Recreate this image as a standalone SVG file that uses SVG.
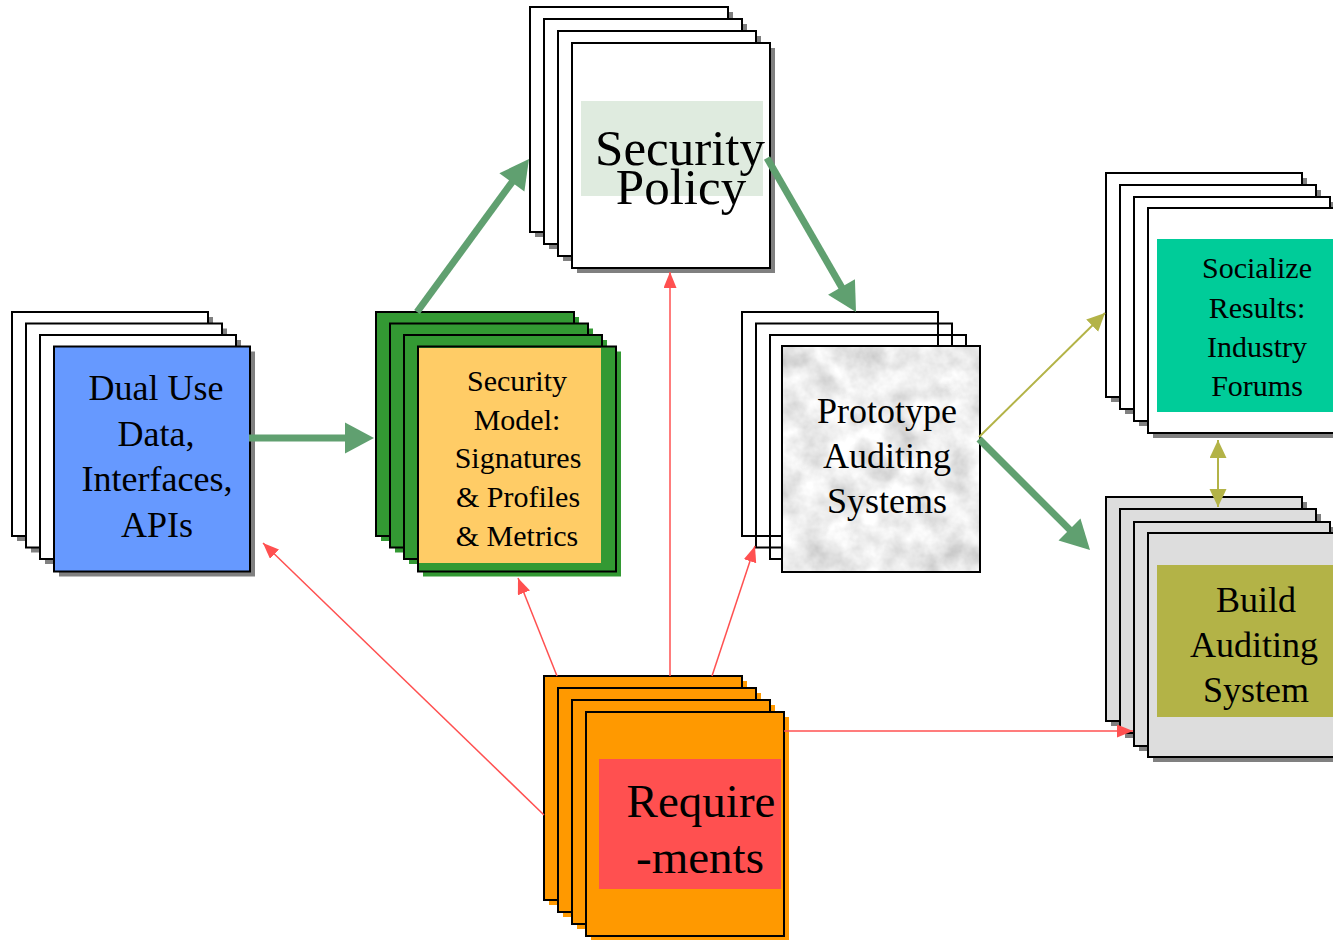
<svg xmlns="http://www.w3.org/2000/svg" width="1333" height="940" viewBox="0 0 1333 940">
<style>
  .card { stroke: #000; stroke-width: 2; }
  .sh { fill: #808080; }
  .w { fill: #fff; }
  .t { font-family: "Liberation Serif", "Times New Roman", serif; fill: #000; text-anchor: middle; }
  .g { stroke: #60A070; stroke-width: 7; fill: none; }
  .gh { fill: #60A070; }
  .r { stroke: #FF5050; stroke-width: 1.5; fill: none; }
  .o { stroke: #B3B347; stroke-width: 2; fill: none; }
</style>
<defs>
  <path id="ghead" d="M0,0 L29,15.5 L0,31 z"/>
  <marker id="mr" markerUnits="userSpaceOnUse" markerWidth="17" markerHeight="14" refX="16" refY="6.5" orient="auto">
    <path d="M0,0 L16,6.5 L0,13 z" fill="#FF5050"/>
  </marker>
  <marker id="mo" markerUnits="userSpaceOnUse" markerWidth="19" markerHeight="18" refX="18" refY="8.5" orient="auto-start-reverse">
    <path d="M0,0 L18,8.5 L0,17 z" fill="#B3B347"/>
  </marker>
  <filter id="marble" x="0" y="0" width="100%" height="100%">
    <feTurbulence type="fractalNoise" baseFrequency="0.035" numOctaves="4" seed="7" result="n"/>
    <feColorMatrix in="n" type="matrix" values="0.7 0 0 0 0.5  0.7 0 0 0 0.5  0.7 0 0 0 0.5  0 0 0 0 1" result="c"/>
    <feComposite in="c" in2="SourceGraphic" operator="in"/>
  </filter>
</defs>

<g id="node-dual">
  <rect class="sh" x="17" y="317" width="196" height="224"/>
  <rect class="card w" x="12" y="312" width="196" height="224"/>
  <rect class="sh" x="31" y="328.5" width="196" height="224"/>
  <rect class="card w" x="26" y="323.5" width="196" height="224"/>
  <rect class="sh" x="45" y="340" width="196" height="224"/>
  <rect class="card w" x="40" y="335" width="196" height="224"/>
  <rect class="sh" x="59" y="351.5" width="196" height="225"/>
  <rect class="card" fill="#6699FF" x="54" y="346.5" width="196" height="225"/>
  <text class="t" font-size="36" x="156" y="400">Dual Use</text>
  <text class="t" font-size="36" x="156" y="446">Data,</text>
  <text class="t" font-size="36" x="157" y="491">Interfaces,</text>
  <text class="t" font-size="36" x="157" y="537">APIs</text>
</g>

<g id="node-model">
  <rect fill="#339933" x="381" y="317" width="198" height="224"/>
  <rect class="card" fill="#339933" x="376" y="312" width="198" height="224"/>
  <rect fill="#339933" x="395" y="328.5" width="198" height="224"/>
  <rect class="card" fill="#339933" x="390" y="323.5" width="198" height="224"/>
  <rect fill="#339933" x="409" y="340" width="198" height="224"/>
  <rect class="card" fill="#339933" x="404" y="335" width="198" height="224"/>
  <rect fill="#339933" x="423" y="351.5" width="198" height="225"/>
  <rect class="card" fill="#339933" x="418" y="346.5" width="198" height="225"/>
  <rect fill="#FFCC66" x="419" y="348" width="182" height="215"/>
  <text class="t" font-size="30" x="517" y="391">Security</text>
  <text class="t" font-size="30" x="517" y="430">Model:</text>
  <text class="t" font-size="30" x="518" y="468">Signatures</text>
  <text class="t" font-size="30" x="518" y="507">&amp; Profiles</text>
  <text class="t" font-size="30" x="517" y="546">&amp; Metrics</text>
</g>

<g id="node-policy">
  <rect class="sh" x="535" y="12" width="198" height="225"/>
  <rect class="card w" x="530" y="7" width="198" height="225"/>
  <rect class="sh" x="549" y="24" width="198" height="225"/>
  <rect class="card w" x="544" y="19" width="198" height="225"/>
  <rect class="sh" x="563" y="36" width="198" height="225"/>
  <rect class="card w" x="558" y="31" width="198" height="225"/>
  <rect class="sh" x="577" y="48" width="198" height="225"/>
  <rect class="card w" x="572" y="43" width="198" height="225"/>
  <rect fill="#DFEBDF" x="581" y="101" width="182" height="95"/>
  <text class="t" font-size="51" x="680" y="165">Security</text>
  <text class="t" font-size="51" x="681" y="204">Policy</text>
</g>

<g id="node-prototype">
  <rect class="card" fill="none" x="742" y="312" width="196" height="224"/>
  <rect class="card" fill="none" x="756" y="323.5" width="196" height="224"/>
  <rect class="card" fill="none" x="770" y="335" width="196" height="224"/>
  <rect fill="#eee" filter="url(#marble)" x="782" y="346" width="198" height="226"/>
  <rect class="card" fill="none" x="782" y="346" width="198" height="226"/>
  <text class="t" font-size="36" x="887" y="423">Prototype</text>
  <text class="t" font-size="36" x="887" y="468">Auditing</text>
  <text class="t" font-size="36" x="887" y="513">Systems</text>
</g>

<g id="node-socialize">
  <rect class="sh" x="1111" y="178" width="196" height="224"/>
  <rect class="card w" x="1106" y="173" width="196" height="224"/>
  <rect class="sh" x="1125" y="190" width="196" height="224"/>
  <rect class="card w" x="1120" y="185" width="196" height="224"/>
  <rect class="sh" x="1139" y="202" width="196" height="224"/>
  <rect class="card w" x="1134" y="197" width="196" height="224"/>
  <rect class="sh" x="1153" y="213" width="196" height="225"/>
  <rect class="card w" x="1148" y="208" width="196" height="225"/>
  <rect fill="#00CC99" x="1157" y="239" width="190" height="173"/>
  <text class="t" font-size="30" x="1257" y="278">Socialize</text>
  <text class="t" font-size="30" x="1257" y="318">Results:</text>
  <text class="t" font-size="30" x="1257" y="357">Industry</text>
  <text class="t" font-size="30" x="1257" y="396">Forums</text>
</g>

<g id="node-build">
  <rect class="sh" x="1111" y="502" width="196" height="224"/>
  <rect class="card" fill="#DDDDDD" x="1106" y="497" width="196" height="224"/>
  <rect class="sh" x="1125" y="514" width="196" height="224"/>
  <rect class="card" fill="#DDDDDD" x="1120" y="509" width="196" height="224"/>
  <rect class="sh" x="1139" y="527" width="196" height="224"/>
  <rect class="card" fill="#DDDDDD" x="1134" y="522" width="196" height="224"/>
  <rect class="sh" x="1153" y="538" width="196" height="224"/>
  <rect class="card" fill="#DDDDDD" x="1148" y="533" width="196" height="224"/>
  <rect fill="#B3B347" x="1157" y="565" width="190" height="152"/>
  <text class="t" font-size="36" x="1256" y="612">Build</text>
  <text class="t" font-size="36" x="1254" y="657">Auditing</text>
  <text class="t" font-size="36" x="1256" y="702">System</text>
</g>

<g id="node-requirements">
  <rect fill="#FF9900" x="549" y="681" width="198" height="224"/>
  <rect class="card" fill="#FF9900" x="544" y="676" width="198" height="224"/>
  <rect fill="#FF9900" x="563" y="693" width="198" height="224"/>
  <rect class="card" fill="#FF9900" x="558" y="688" width="198" height="224"/>
  <rect fill="#FF9900" x="577" y="705" width="198" height="224"/>
  <rect class="card" fill="#FF9900" x="572" y="700" width="198" height="224"/>
  <rect fill="#FF9900" x="591" y="717" width="198" height="224"/>
  <rect class="card" fill="#FF9900" x="586" y="712" width="198" height="224"/>
  <rect fill="#FF5050" x="599" y="759" width="182" height="130"/>
  <text class="t" font-size="47" x="701" y="817">Require</text>
  <text class="t" font-size="47" x="700" y="873">-ments</text>
</g>

<g id="connectors">
  <line class="g" x1="249" y1="438" x2="350" y2="438"/>
  <use href="#ghead" class="gh" transform="translate(374,438) translate(-29,-15.5)"/>
  <line class="g" x1="417" y1="312" x2="517.2" y2="175.1"/>
  <use href="#ghead" class="gh" transform="translate(529,159) rotate(-53.8) translate(-29,-15.5)"/>
  <line class="g" x1="767" y1="158" x2="846" y2="294.7"/>
  <use href="#ghead" class="gh" transform="translate(856,312) rotate(60) translate(-29,-15.5)"/>
  <line class="g" x1="979" y1="439" x2="1075.9" y2="535.9"/>
  <use href="#ghead" class="gh" transform="translate(1090,550) rotate(45) translate(-29,-15.5)"/>

  <line class="o" x1="979" y1="437" x2="1105" y2="313" marker-end="url(#mo)"/>
  <line class="o" x1="1218" y1="440" x2="1218" y2="507" marker-start="url(#mo)" marker-end="url(#mo)"/>

  <line class="r" x1="544" y1="815" x2="263" y2="543" marker-end="url(#mr)"/>
  <line class="r" x1="557" y1="676" x2="518" y2="578" marker-end="url(#mr)"/>
  <line class="r" x1="670" y1="676" x2="670" y2="272" marker-end="url(#mr)"/>
  <line class="r" x1="712" y1="676" x2="755" y2="546" marker-end="url(#mr)"/>
  <line class="r" x1="784" y1="731" x2="1133" y2="731" marker-end="url(#mr)"/>
</g>
</svg>
